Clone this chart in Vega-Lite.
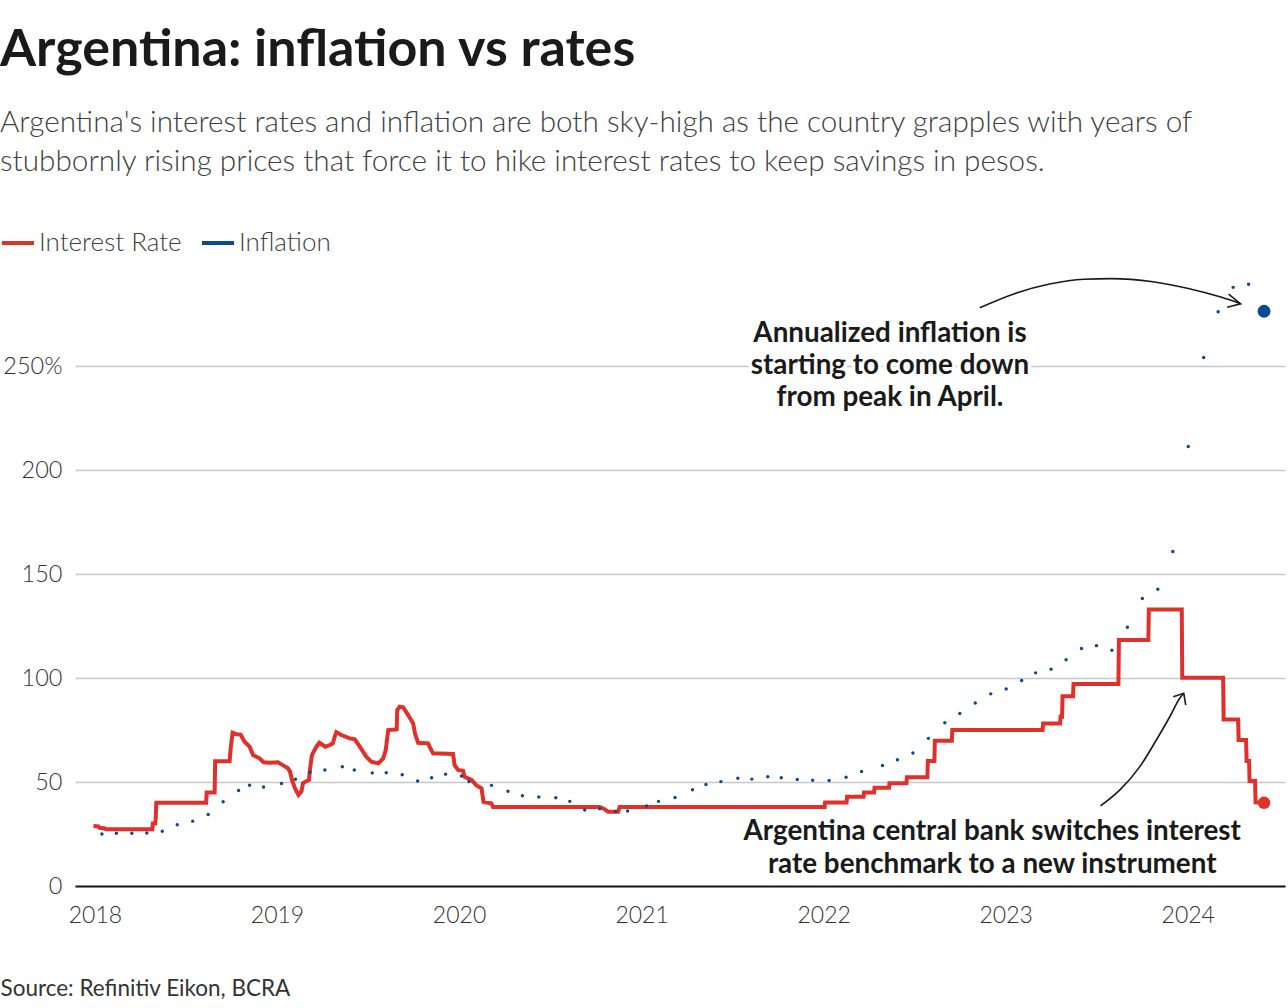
{
  "$schema": "https://vega.github.io/schema/vega-lite/v6.json",
  "width": 1210,
  "height": 603,
  "autosize": {"type": "none"},
  "padding": {"left": 75, "top": 283, "right": 3, "bottom": 122},
  "background": "white",
  "config": {"view": {"stroke": null}, "font": "Lato"},
  "title": {
    "text": "Argentina: inflation vs rates",
    "subtitle": ["Argentina's interest rates and inflation are both sky-high as the country grapples with years of", "stubbornly rising prices that force it to hike interest rates to keep savings in pesos."],
    "anchor": "start",
    "frame": "bounds",
    "font": "Lato",
    "fontSize": 52,
    "fontWeight": "bold",
    "color": "#1a1a1a",
    "subtitleFont": "Lato",
    "subtitleFontSize": 29.7,
    "subtitleFontWeight": 300,
    "subtitleColor": "#404040",
    "subtitleLineHeight": 39.3,
    "subtitlePadding": 32,
    "offset": 47
  },
  "datasets": {
    "rate": [
      {"date": "2017-12-29", "value": 28.8, "series": "Interest Rate"},
      {"date": "2018-01-08", "value": 28.6, "series": "Interest Rate"},
      {"date": "2018-01-10", "value": 28.0, "series": "Interest Rate"},
      {"date": "2018-01-21", "value": 27.7, "series": "Interest Rate"},
      {"date": "2018-01-23", "value": 27.3, "series": "Interest Rate"},
      {"date": "2018-04-26", "value": 27.3, "series": "Interest Rate"},
      {"date": "2018-04-27", "value": 30.0, "series": "Interest Rate"},
      {"date": "2018-05-02", "value": 30.0, "series": "Interest Rate"},
      {"date": "2018-05-03", "value": 33.3, "series": "Interest Rate"},
      {"date": "2018-05-04", "value": 40.0, "series": "Interest Rate"},
      {"date": "2018-08-12", "value": 40.0, "series": "Interest Rate"},
      {"date": "2018-08-13", "value": 45.0, "series": "Interest Rate"},
      {"date": "2018-08-29", "value": 45.0, "series": "Interest Rate"},
      {"date": "2018-08-30", "value": 60.0, "series": "Interest Rate"},
      {"date": "2018-09-28", "value": 60.0, "series": "Interest Rate"},
      {"date": "2018-09-30", "value": 66.0, "series": "Interest Rate"},
      {"date": "2018-10-04", "value": 73.7, "series": "Interest Rate"},
      {"date": "2018-10-12", "value": 73.0, "series": "Interest Rate"},
      {"date": "2018-10-20", "value": 72.8, "series": "Interest Rate"},
      {"date": "2018-10-28", "value": 69.4, "series": "Interest Rate"},
      {"date": "2018-11-07", "value": 67.0, "series": "Interest Rate"},
      {"date": "2018-11-14", "value": 63.0, "series": "Interest Rate"},
      {"date": "2018-11-27", "value": 61.4, "series": "Interest Rate"},
      {"date": "2018-12-05", "value": 59.5, "series": "Interest Rate"},
      {"date": "2018-12-17", "value": 59.3, "series": "Interest Rate"},
      {"date": "2019-01-03", "value": 59.5, "series": "Interest Rate"},
      {"date": "2019-01-10", "value": 58.5, "series": "Interest Rate"},
      {"date": "2019-01-23", "value": 56.6, "series": "Interest Rate"},
      {"date": "2019-01-27", "value": 55.0, "series": "Interest Rate"},
      {"date": "2019-01-31", "value": 51.0, "series": "Interest Rate"},
      {"date": "2019-02-06", "value": 47.0, "series": "Interest Rate"},
      {"date": "2019-02-13", "value": 43.8, "series": "Interest Rate"},
      {"date": "2019-02-19", "value": 45.5, "series": "Interest Rate"},
      {"date": "2019-02-22", "value": 49.4, "series": "Interest Rate"},
      {"date": "2019-02-28", "value": 50.3, "series": "Interest Rate"},
      {"date": "2019-03-06", "value": 51.0, "series": "Interest Rate"},
      {"date": "2019-03-08", "value": 55.8, "series": "Interest Rate"},
      {"date": "2019-03-12", "value": 63.0, "series": "Interest Rate"},
      {"date": "2019-03-21", "value": 67.0, "series": "Interest Rate"},
      {"date": "2019-03-27", "value": 68.9, "series": "Interest Rate"},
      {"date": "2019-04-08", "value": 67.0, "series": "Interest Rate"},
      {"date": "2019-04-17", "value": 67.8, "series": "Interest Rate"},
      {"date": "2019-04-23", "value": 68.6, "series": "Interest Rate"},
      {"date": "2019-04-27", "value": 72.0, "series": "Interest Rate"},
      {"date": "2019-04-30", "value": 74.0, "series": "Interest Rate"},
      {"date": "2019-05-10", "value": 72.6, "series": "Interest Rate"},
      {"date": "2019-05-27", "value": 71.0, "series": "Interest Rate"},
      {"date": "2019-06-06", "value": 70.5, "series": "Interest Rate"},
      {"date": "2019-06-16", "value": 67.0, "series": "Interest Rate"},
      {"date": "2019-06-29", "value": 62.2, "series": "Interest Rate"},
      {"date": "2019-07-09", "value": 59.8, "series": "Interest Rate"},
      {"date": "2019-07-23", "value": 59.0, "series": "Interest Rate"},
      {"date": "2019-08-02", "value": 61.4, "series": "Interest Rate"},
      {"date": "2019-08-07", "value": 65.4, "series": "Interest Rate"},
      {"date": "2019-08-12", "value": 75.0, "series": "Interest Rate"},
      {"date": "2019-08-29", "value": 75.3, "series": "Interest Rate"},
      {"date": "2019-08-30", "value": 84.6, "series": "Interest Rate"},
      {"date": "2019-09-04", "value": 86.2, "series": "Interest Rate"},
      {"date": "2019-09-11", "value": 85.9, "series": "Interest Rate"},
      {"date": "2019-09-21", "value": 82.2, "series": "Interest Rate"},
      {"date": "2019-10-01", "value": 78.2, "series": "Interest Rate"},
      {"date": "2019-10-05", "value": 73.0, "series": "Interest Rate"},
      {"date": "2019-10-11", "value": 68.9, "series": "Interest Rate"},
      {"date": "2019-10-31", "value": 68.6, "series": "Interest Rate"},
      {"date": "2019-11-05", "value": 66.0, "series": "Interest Rate"},
      {"date": "2019-11-10", "value": 63.8, "series": "Interest Rate"},
      {"date": "2019-12-20", "value": 63.5, "series": "Interest Rate"},
      {"date": "2019-12-23", "value": 58.2, "series": "Interest Rate"},
      {"date": "2019-12-30", "value": 55.8, "series": "Interest Rate"},
      {"date": "2020-01-09", "value": 55.4, "series": "Interest Rate"},
      {"date": "2020-01-12", "value": 52.5, "series": "Interest Rate"},
      {"date": "2020-01-26", "value": 51.0, "series": "Interest Rate"},
      {"date": "2020-02-05", "value": 48.4, "series": "Interest Rate"},
      {"date": "2020-02-15", "value": 47.0, "series": "Interest Rate"},
      {"date": "2020-02-19", "value": 40.5, "series": "Interest Rate"},
      {"date": "2020-03-06", "value": 39.7, "series": "Interest Rate"},
      {"date": "2020-03-09", "value": 38.0, "series": "Interest Rate"},
      {"date": "2020-10-09", "value": 38.0, "series": "Interest Rate"},
      {"date": "2020-10-19", "value": 36.9, "series": "Interest Rate"},
      {"date": "2020-10-26", "value": 35.7, "series": "Interest Rate"},
      {"date": "2020-11-15", "value": 35.7, "series": "Interest Rate"},
      {"date": "2020-11-18", "value": 38.0, "series": "Interest Rate"},
      {"date": "2022-01-03", "value": 38.0, "series": "Interest Rate"},
      {"date": "2022-01-04", "value": 40.2, "series": "Interest Rate"},
      {"date": "2022-02-16", "value": 40.2, "series": "Interest Rate"},
      {"date": "2022-02-17", "value": 42.9, "series": "Interest Rate"},
      {"date": "2022-03-22", "value": 42.9, "series": "Interest Rate"},
      {"date": "2022-03-23", "value": 45.0, "series": "Interest Rate"},
      {"date": "2022-04-12", "value": 45.0, "series": "Interest Rate"},
      {"date": "2022-04-13", "value": 47.3, "series": "Interest Rate"},
      {"date": "2022-05-12", "value": 47.3, "series": "Interest Rate"},
      {"date": "2022-05-13", "value": 49.4, "series": "Interest Rate"},
      {"date": "2022-06-16", "value": 49.4, "series": "Interest Rate"},
      {"date": "2022-06-17", "value": 52.3, "series": "Interest Rate"},
      {"date": "2022-07-28", "value": 52.3, "series": "Interest Rate"},
      {"date": "2022-07-29", "value": 60.1, "series": "Interest Rate"},
      {"date": "2022-08-11", "value": 60.1, "series": "Interest Rate"},
      {"date": "2022-08-12", "value": 69.9, "series": "Interest Rate"},
      {"date": "2022-09-15", "value": 69.9, "series": "Interest Rate"},
      {"date": "2022-09-16", "value": 75.0, "series": "Interest Rate"},
      {"date": "2023-03-16", "value": 75.0, "series": "Interest Rate"},
      {"date": "2023-03-17", "value": 78.2, "series": "Interest Rate"},
      {"date": "2023-04-20", "value": 78.2, "series": "Interest Rate"},
      {"date": "2023-04-21", "value": 81.4, "series": "Interest Rate"},
      {"date": "2023-04-24", "value": 81.4, "series": "Interest Rate"},
      {"date": "2023-04-25", "value": 91.3, "series": "Interest Rate"},
      {"date": "2023-05-16", "value": 91.3, "series": "Interest Rate"},
      {"date": "2023-05-17", "value": 97.1, "series": "Interest Rate"},
      {"date": "2023-08-15", "value": 97.1, "series": "Interest Rate"},
      {"date": "2023-08-16", "value": 118.3, "series": "Interest Rate"},
      {"date": "2023-10-14", "value": 118.3, "series": "Interest Rate"},
      {"date": "2023-10-15", "value": 133.0, "series": "Interest Rate"},
      {"date": "2023-12-20", "value": 133.0, "series": "Interest Rate"},
      {"date": "2023-12-21", "value": 100.1, "series": "Interest Rate"},
      {"date": "2024-03-12", "value": 100.1, "series": "Interest Rate"},
      {"date": "2024-03-13", "value": 80.1, "series": "Interest Rate"},
      {"date": "2024-04-11", "value": 80.1, "series": "Interest Rate"},
      {"date": "2024-04-12", "value": 70.2, "series": "Interest Rate"},
      {"date": "2024-04-27", "value": 70.2, "series": "Interest Rate"},
      {"date": "2024-04-28", "value": 60.1, "series": "Interest Rate"},
      {"date": "2024-05-03", "value": 60.1, "series": "Interest Rate"},
      {"date": "2024-05-04", "value": 50.5, "series": "Interest Rate"},
      {"date": "2024-05-15", "value": 50.5, "series": "Interest Rate"},
      {"date": "2024-05-16", "value": 40.2, "series": "Interest Rate"},
      {"date": "2024-06-02", "value": 40.0, "series": "Interest Rate"}
    ],
    "inflation": [
      {"date": "2018-01-15", "value": 25.0, "series": "Inflation"},
      {"date": "2018-02-13", "value": 25.4, "series": "Inflation"},
      {"date": "2018-03-16", "value": 25.4, "series": "Inflation"},
      {"date": "2018-04-15", "value": 25.5, "series": "Inflation"},
      {"date": "2018-05-16", "value": 26.3, "series": "Inflation"},
      {"date": "2018-06-15", "value": 29.5, "series": "Inflation"},
      {"date": "2018-07-16", "value": 31.2, "series": "Inflation"},
      {"date": "2018-08-16", "value": 34.4, "series": "Inflation"},
      {"date": "2018-09-15", "value": 40.5, "series": "Inflation"},
      {"date": "2018-10-16", "value": 45.9, "series": "Inflation"},
      {"date": "2018-11-07", "value": 48.5, "series": "Inflation"},
      {"date": "2018-12-05", "value": 47.6, "series": "Inflation"},
      {"date": "2019-01-10", "value": 49.3, "series": "Inflation"},
      {"date": "2019-02-07", "value": 51.3, "series": "Inflation"},
      {"date": "2019-03-08", "value": 54.7, "series": "Inflation"},
      {"date": "2019-04-07", "value": 55.8, "series": "Inflation"},
      {"date": "2019-05-12", "value": 57.3, "series": "Inflation"},
      {"date": "2019-06-05", "value": 55.8, "series": "Inflation"},
      {"date": "2019-07-11", "value": 54.4, "series": "Inflation"},
      {"date": "2019-08-08", "value": 54.5, "series": "Inflation"},
      {"date": "2019-09-09", "value": 53.5, "series": "Inflation"},
      {"date": "2019-10-10", "value": 50.5, "series": "Inflation"},
      {"date": "2019-11-07", "value": 52.1, "series": "Inflation"},
      {"date": "2019-12-05", "value": 53.8, "series": "Inflation"},
      {"date": "2020-01-06", "value": 52.9, "series": "Inflation"},
      {"date": "2020-01-21", "value": 50.3, "series": "Inflation"},
      {"date": "2020-03-06", "value": 48.4, "series": "Inflation"},
      {"date": "2020-04-08", "value": 45.6, "series": "Inflation"},
      {"date": "2020-05-07", "value": 43.4, "series": "Inflation"},
      {"date": "2020-06-09", "value": 42.8, "series": "Inflation"},
      {"date": "2020-07-13", "value": 42.4, "series": "Inflation"},
      {"date": "2020-08-10", "value": 40.7, "series": "Inflation"},
      {"date": "2020-09-09", "value": 36.6, "series": "Inflation"},
      {"date": "2020-10-09", "value": 37.2, "series": "Inflation"},
      {"date": "2020-11-10", "value": 35.8, "series": "Inflation"},
      {"date": "2020-12-04", "value": 36.1, "series": "Inflation"},
      {"date": "2021-01-11", "value": 38.5, "series": "Inflation"},
      {"date": "2021-02-04", "value": 40.7, "series": "Inflation"},
      {"date": "2021-03-09", "value": 42.6, "series": "Inflation"},
      {"date": "2021-04-13", "value": 46.3, "series": "Inflation"},
      {"date": "2021-05-10", "value": 48.8, "series": "Inflation"},
      {"date": "2021-06-09", "value": 50.2, "series": "Inflation"},
      {"date": "2021-07-13", "value": 51.8, "series": "Inflation"},
      {"date": "2021-08-10", "value": 51.4, "series": "Inflation"},
      {"date": "2021-09-11", "value": 52.5, "series": "Inflation"},
      {"date": "2021-10-08", "value": 52.1, "series": "Inflation"},
      {"date": "2021-11-09", "value": 51.2, "series": "Inflation"},
      {"date": "2021-12-10", "value": 50.9, "series": "Inflation"},
      {"date": "2022-01-12", "value": 50.7, "series": "Inflation"},
      {"date": "2022-02-15", "value": 52.3, "series": "Inflation"},
      {"date": "2022-03-18", "value": 55.1, "series": "Inflation"},
      {"date": "2022-04-29", "value": 58.0, "series": "Inflation"},
      {"date": "2022-05-29", "value": 60.7, "series": "Inflation"},
      {"date": "2022-06-29", "value": 64.0, "series": "Inflation"},
      {"date": "2022-07-30", "value": 71.0, "series": "Inflation"},
      {"date": "2022-09-01", "value": 78.5, "series": "Inflation"},
      {"date": "2022-10-01", "value": 83.0, "series": "Inflation"},
      {"date": "2022-11-01", "value": 88.0, "series": "Inflation"},
      {"date": "2022-12-02", "value": 92.4, "series": "Inflation"},
      {"date": "2023-01-02", "value": 94.8, "series": "Inflation"},
      {"date": "2023-02-02", "value": 98.8, "series": "Inflation"},
      {"date": "2023-03-02", "value": 102.5, "series": "Inflation"},
      {"date": "2023-04-02", "value": 104.3, "series": "Inflation"},
      {"date": "2023-05-02", "value": 108.8, "series": "Inflation"},
      {"date": "2023-06-02", "value": 114.2, "series": "Inflation"},
      {"date": "2023-07-02", "value": 115.6, "series": "Inflation"},
      {"date": "2023-08-02", "value": 113.4, "series": "Inflation"},
      {"date": "2023-09-02", "value": 124.4, "series": "Inflation"},
      {"date": "2023-10-02", "value": 138.3, "series": "Inflation"},
      {"date": "2023-11-02", "value": 142.7, "series": "Inflation"},
      {"date": "2023-12-02", "value": 160.9, "series": "Inflation"},
      {"date": "2024-01-02", "value": 211.4, "series": "Inflation"},
      {"date": "2024-02-02", "value": 254.2, "series": "Inflation"},
      {"date": "2024-03-02", "value": 276.2, "series": "Inflation"},
      {"date": "2024-04-01", "value": 287.9, "series": "Inflation"},
      {"date": "2024-05-02", "value": 289.4, "series": "Inflation"},
      {"date": "2024-06-02", "value": 276.4, "series": "Inflation"}
    ],
    "curves": [
      {"arrow": "a", "date": "2022-11-10", "value": 278.1},
      {"arrow": "a", "date": "2023-01-20", "value": 285.0},
      {"arrow": "a", "date": "2023-03-30", "value": 289.5},
      {"arrow": "a", "date": "2023-06-07", "value": 291.8},
      {"arrow": "a", "date": "2023-08-01", "value": 292.1},
      {"arrow": "a", "date": "2023-10-23", "value": 290.6},
      {"arrow": "a", "date": "2023-12-31", "value": 287.5},
      {"arrow": "a", "date": "2024-03-09", "value": 283.1},
      {"arrow": "a", "date": "2024-04-16", "value": 280.0},
      {"arrow": "b", "date": "2023-07-10", "value": 38.5},
      {"arrow": "b", "date": "2023-08-18", "value": 46.2},
      {"arrow": "b", "date": "2023-09-27", "value": 57.4},
      {"arrow": "b", "date": "2023-10-30", "value": 70.2},
      {"arrow": "b", "date": "2023-11-26", "value": 81.4},
      {"arrow": "b", "date": "2023-12-16", "value": 90.3},
      {"arrow": "b", "date": "2023-12-24", "value": 92.7}
    ],
    "heads": [
      {"arrow": "a", "order": 1, "date": "2024-03-23", "value": 284.6},
      {"arrow": "a", "order": 2, "date": "2024-04-16", "value": 280.0},
      {"arrow": "a", "order": 3, "date": "2024-03-20", "value": 278.3},
      {"arrow": "b", "order": 1, "date": "2023-12-03", "value": 91.0},
      {"arrow": "b", "order": 2, "date": "2023-12-24", "value": 92.7},
      {"arrow": "b", "order": 3, "date": "2023-12-28", "value": 87.0}
    ],
    "notes": [
      {"date": "2022-05-14", "value": 261.8, "text": "Annualized inflation is\nstarting to come down\nfrom peak in April."},
      {"date": "2022-12-05", "value": 22.0, "text": "Argentina central bank switches interest\nrate benchmark to a new instrument"}
    ]
  },
  "encoding": {
    "x": {
      "field": "date",
      "type": "temporal",
      "scale": {"type": "utc", "domain": [{"year": 2017, "month": 11, "date": 22, "utc": true}, {"year": 2024, "month": 7, "date": 14, "utc": true}]},
      "axis": {
        "title": "Source: Refinitiv Eikon, BCRA",
        "titleX": -75,
        "titleY": 109,
        "titleAlign": "left",
        "titleBaseline": "alphabetic",
        "titleFont": "Lato",
        "titleFontSize": 22.5,
        "titleFontWeight": 400,
        "titleColor": "#333333",
        "format": "%Y",
        "tickCount": {"interval": "year", "step": 1},
        "ticks": false,
        "grid": false,
        "labelFont": "Lato",
        "labelFontSize": 23,
        "labelFontWeight": 300,
        "labelColor": "#333333",
        "labelPadding": 18,
        "labelFlush": false,
        "domainColor": "#1a1a1a",
        "domainWidth": 2.2
      }
    },
    "y": {
      "field": "value",
      "type": "quantitative",
      "scale": {"domain": [0, 290], "nice": false},
      "axis": {
        "title": null,
        "values": [0, 50, 100, 150, 200, 250],
        "labelExpr": "datum.value == 250 ? '250%' : datum.label",
        "domain": false,
        "ticks": false,
        "grid": true,
        "gridColor": "#c8c8c8",
        "gridWidth": 1.3,
        "labelFont": "Lato",
        "labelFontSize": 23.5,
        "labelFontWeight": 300,
        "labelColor": "#333333",
        "labelPadding": 13
      }
    }
  },
  "layer": [
    {
      "data": {"name": "rate"},
      "mark": {"type": "line", "strokeWidth": 4, "strokeJoin": "miter"},
      "encoding": {
        "color": {
          "field": "series",
          "type": "nominal",
          "scale": {"domain": ["Interest Rate", "Inflation"], "range": ["#e0302a", "#0b4a8f"]},
          "legend": {
            "title": null,
            "orient": "none",
            "legendX": -75,
            "legendY": -58,
            "direction": "horizontal",
            "symbolType": "stroke",
            "symbolSize": 1024,
            "symbolStrokeWidth": 4,
            "labelFont": "Lato",
            "labelFontSize": 26,
            "labelFontWeight": 300,
            "labelColor": "#404040",
            "labelOffset": 3,
            "columnPadding": 12,
            "padding": 0,
            "offset": 0
          }
        }
      }
    },
    {
      "data": {"name": "inflation"},
      "mark": {"type": "point", "filled": true, "size": 12, "opacity": 1},
      "encoding": {"color": {"field": "series", "type": "nominal", "legend": null}}
    },
    {
      "data": {"name": "inflation"},
      "transform": [{"filter": "time(datum.date) == utc(2024, 5, 2)"}],
      "mark": {"type": "point", "filled": true, "size": 165, "opacity": 1},
      "encoding": {"color": {"field": "series", "type": "nominal", "legend": null}}
    },
    {
      "data": {"name": "rate"},
      "transform": [{"filter": "time(datum.date) == utc(2024, 5, 2)"}],
      "mark": {"type": "point", "filled": true, "size": 155, "opacity": 1},
      "encoding": {"color": {"field": "series", "type": "nominal", "legend": null}}
    },
    {
      "data": {"name": "curves"},
      "mark": {"type": "line", "interpolate": "monotone", "strokeWidth": 1.6, "color": "#1a1a1a"},
      "encoding": {"detail": {"field": "arrow"}}
    },
    {
      "data": {"name": "heads"},
      "mark": {"type": "line", "strokeWidth": 1.6, "color": "#1a1a1a", "strokeJoin": "miter"},
      "encoding": {"detail": {"field": "arrow"}, "order": {"field": "order", "type": "quantitative"}}
    },
    {
      "data": {"name": "notes"},
      "mark": {"type": "text", "align": "center", "baseline": "alphabetic", "font": "Lato", "fontSize": 27.8, "fontWeight": "bold", "lineBreak": "\n", "lineHeight": 32.3, "fill": "white", "stroke": "white", "strokeWidth": 7, "strokeJoin": "round"},
      "encoding": {"text": {"field": "text"}}
    },
    {
      "data": {"name": "notes"},
      "mark": {"type": "text", "align": "center", "baseline": "alphabetic", "font": "Lato", "fontSize": 27.8, "fontWeight": "bold", "lineBreak": "\n", "lineHeight": 32.3, "fill": "#1a1a1a"},
      "encoding": {"text": {"field": "text"}}
    }
  ]
}
